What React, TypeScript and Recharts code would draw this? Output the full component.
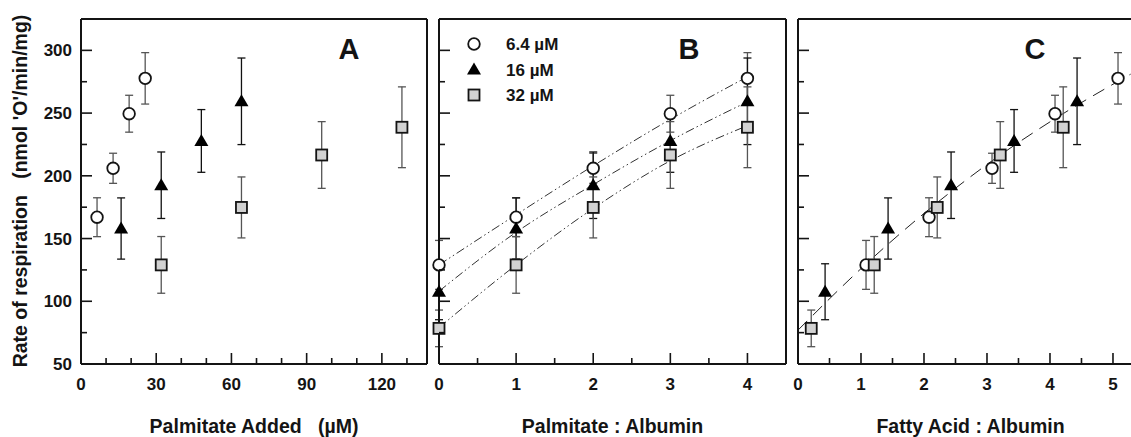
import React from "react";
import { ComposedChart, ErrorBar, Legend, Line, ReferenceLine, Scatter, XAxis, YAxis } from "recharts";

// Respiration rate (nmol 'O'/min/mg) at palmitate:albumin ratio 0..4
const RATIOS = [0, 1, 2, 3, 4];
const RESP_64 = [129, 167, 206, 249.5, 277.7];
const ERR_64 = [19.5, 15.5, 12, 14.7, 20.5];
const RESP_16 = [107.6, 158, 192.5, 227.8, 259.4];
const ERR_16 = [22.3, 24.4, 26.5, 25, 34.5];
const RESP_32 = [78.4, 129, 174.8, 216.6, 238.7];
const ERR_32 = [14.6, 22.6, 24.3, 26.6, 32.2];

// Panel B fitted curves
const FIT_64 = [129, 169, 208, 245, 279];
const FIT_16 = [108, 155, 193, 228, 259];
const FIT_32 = [79, 129, 174, 212, 240];

// Panel A: palmitate added (µM), ratios 1..4
const PALM_64 = [6.4, 12.8, 19.2, 25.6];
const PALM_16 = [16, 32, 48, 64];
const PALM_32 = [32, 64, 96, 128];

// Panel C: total fatty acid : albumin
const FA_64 = [1.08, 2.08, 3.08, 4.08, 5.08];
const FA_16 = [0.43, 1.43, 2.43, 3.43, 4.43];
const FA_32 = [0.21, 1.21, 2.21, 3.21, 4.21];
const FIT_C_X = [0, 1, 2, 3, 4, 5, 5.28];
const FIT_C_Y = [77, 126, 170, 209, 243, 273, 281];

// Ticks
const Y_TICKS = [50, 75, 100, 125, 150, 175, 200, 225, 250, 275, 300];
const Y_LABELS = [50, 100, 150, 200, 250, 300];
const X_TICKS_A = [0, 10, 20, 30, 40, 50, 60, 70, 80, 90, 100, 110, 120, 130];
const X_LABELS_A = [0, 30, 60, 90, 120];
const X_TICKS_B = [0, 0.5, 1, 1.5, 2, 2.5, 3, 3.5, 4];
const X_LABELS_B = [0, 1, 2, 3, 4];
const X_TICKS_C = [0, 0.5, 1, 1.5, 2, 2.5, 3, 3.5, 4, 4.5, 5];
const X_LABELS_C = [0, 1, 2, 3, 4, 5];

const FONT = '"Liberation Sans", Arial, Helvetica, sans-serif';
const INK = "#141414";
const CHART_H = 437;
const PLOT_BOTTOM = 364;
const Y_DOMAIN: [number, number] = [50, 325];
const MARGIN = { top: 19, right: 0, bottom: 3, left: 0 };

const toPoints = (xs: number[], ys: number[], errs: number[]) =>
  xs.map((x, i) => ({ x, y: ys[i], err: errs[i] }));

// Markers
const CircleMark = ({ cx, cy }: any) => (
  <circle cx={cx} cy={cy} r={5.8} fill="#fff" stroke={INK} strokeWidth={1.8} />
);
const TriangleMark = ({ cx, cy }: any) => (
  <polygon points={`${cx},${cy - 7} ${cx - 7},${cy + 5} ${cx + 7},${cy + 5}`} fill="#000" />
);
const SquareMark = ({ cx, cy }: any) => (
  <rect x={cx - 5.5} y={cy - 5.5} width={11} height={11} fill="#d2d2d2" stroke={INK} strokeWidth={1.8} />
);

const SERIES = [
  { name: "6.4 \u00b5M", Mark: CircleMark, bar: "#555" },
  { name: "16 \u00b5M", Mark: TriangleMark, bar: "#111" },
  { name: "32 \u00b5M", Mark: SquareMark, bar: "#555" },
];

// Inward tick marks, labels only on major ticks
const makeXTick = (labels: number[]) => (props: any) => {
  const { x, payload } = props;
  const major = labels.includes(payload.value);
  return (
    <g>
      <line x1={x} x2={x} y1={PLOT_BOTTOM} y2={PLOT_BOTTOM - (major ? 11 : 6)} stroke={INK} strokeWidth={1.6} />
      {major && (
        <text x={x} y={PLOT_BOTTOM + 26} textAnchor="middle" fontSize={17} fontWeight="bold" fill={INK} fontFamily={FONT}>
          {payload.value}
        </text>
      )}
    </g>
  );
};

const makeYTick = (plotLeft: number, showLabels: boolean) => (props: any) => {
  const { y, payload } = props;
  const major = Y_LABELS.includes(payload.value);
  return (
    <g>
      <line x1={plotLeft} x2={plotLeft + (major ? 11 : 6)} y1={y} y2={y} stroke={INK} strokeWidth={1.6} />
      {showLabels && major && (
        <text x={plotLeft - 9} y={y + 6} textAnchor="end" fontSize={17} fontWeight="bold" fill={INK} fontFamily={FONT}>
          {payload.value}
        </text>
      )}
    </g>
  );
};

const LegendB = () => (
  <svg width={200} height={110}>
    {SERIES.map((s, i) => {
      const cy = 44 + i * 25.5;
      return (
        <g key={s.name}>
          <s.Mark cx={45} cy={cy} />
          <text x={77} y={cy + 6} fontSize={17} fontWeight="bold" fill={INK} fontFamily={FONT}>
            {s.name}
          </text>
        </g>
      );
    })}
  </svg>
);

const BORDER = { stroke: INK, strokeWidth: 2 };

export default function App() {
  const seriesA = [
    toPoints(PALM_64, RESP_64.slice(1), ERR_64.slice(1)),
    toPoints(PALM_16, RESP_16.slice(1), ERR_16.slice(1)),
    toPoints(PALM_32, RESP_32.slice(1), ERR_32.slice(1)),
  ];
  const seriesB = [
    toPoints(RATIOS, RESP_64, ERR_64),
    toPoints(RATIOS, RESP_16, ERR_16),
    toPoints(RATIOS, RESP_32, ERR_32),
  ];
  const fitsB = [FIT_64, FIT_16, FIT_32].map((fit) => RATIOS.map((x, i) => ({ x, y: fit[i] })));
  const seriesC = [toPoints(FA_64, RESP_64, ERR_64), toPoints(FA_16, RESP_16, ERR_16), toPoints(FA_32, RESP_32, ERR_32)];
  const fitC = FIT_C_X.map((x, i) => ({ x, y: FIT_C_Y[i] }));

  const renderScatters = (sets: { x: number; y: number; err: number }[][]) =>
    sets.map((data, i) => (
      <Scatter key={SERIES[i].name} name={SERIES[i].name} data={data} shape={SERIES[i].Mark} isAnimationActive={false}>
        <ErrorBar dataKey="err" direction="y" width={4} stroke={SERIES[i].bar} strokeWidth={1.3} />
      </Scatter>
    ));

  return (
    <div style={{ position: "absolute", left: 0, top: 0, width: 1131, height: 437, background: "#fff", fontFamily: FONT }}>
      {/* Panel A */}
      <div style={{ position: "absolute", left: 0, top: 0 }}>
        <ComposedChart width={430} height={CHART_H} margin={{ ...MARGIN, right: 3 }}>
          <XAxis dataKey="x" type="number" domain={[0, 138]} ticks={X_TICKS_A} interval={0}
            height={70} tickLine={false} axisLine={BORDER} tick={makeXTick(X_LABELS_A)} />
          <YAxis dataKey="y" type="number" domain={Y_DOMAIN} ticks={Y_TICKS} interval={0}
            width={81} tickLine={false} axisLine={BORDER} tick={makeYTick(81, true)} />
          <ReferenceLine y={325} {...BORDER} />
          <ReferenceLine x={138} {...BORDER} />
          {renderScatters(seriesA)}
        </ComposedChart>
      </div>

      {/* Panel B */}
      <div style={{ position: "absolute", left: 429, top: 0 }}>
        <ComposedChart width={359} height={CHART_H} margin={{ ...MARGIN, right: 2 }}>
          <XAxis dataKey="x" type="number" domain={[0, 4.5]} ticks={X_TICKS_B} interval={0}
            height={70} tickLine={false} axisLine={BORDER} tick={makeXTick(X_LABELS_B)} />
          <YAxis dataKey="y" type="number" domain={Y_DOMAIN} ticks={Y_TICKS} interval={0}
            width={10} tickLine={false} axisLine={BORDER} tick={makeYTick(10, false)} />
          <ReferenceLine y={325} {...BORDER} />
          <ReferenceLine x={4.5} {...BORDER} />
          {fitsB.map((data, i) => (
            <Line key={`fit-${i}`} data={data} dataKey="y" type="monotone" dot={false} legendType="none"
              stroke="#333" strokeWidth={1} strokeDasharray="9 3 1.5 3 1.5 3" isAnimationActive={false} />
          ))}
          {renderScatters(seriesB)}
          <Legend content={LegendB} layout="vertical" align="center" verticalAlign="middle"
            wrapperStyle={{ left: 0, top: 0, width: 200, height: 110 }} />
        </ComposedChart>
      </div>

      {/* Panel C */}
      <div style={{ position: "absolute", left: 788, top: 0 }}>
        <ComposedChart width={343} height={CHART_H} margin={MARGIN}>
          <XAxis dataKey="x" type="number" domain={[0, 5.286]} ticks={X_TICKS_C} interval={0}
            height={70} tickLine={false} axisLine={BORDER} tick={makeXTick(X_LABELS_C)} />
          <YAxis dataKey="y" type="number" domain={Y_DOMAIN} ticks={Y_TICKS} interval={0}
            width={10} tickLine={false} axisLine={BORDER} tick={makeYTick(10, false)} />
          <ReferenceLine y={325} {...BORDER} />
          <Line data={fitC} dataKey="y" type="monotone" dot={false} legendType="none"
            stroke="#222" strokeWidth={1} strokeDasharray="13 8" isAnimationActive={false} />
          {renderScatters(seriesC)}
        </ComposedChart>
      </div>

      {/* Titles */}
      <svg width={1131} height={437} style={{ position: "absolute", left: 0, top: 0, pointerEvents: "none" }}
        fontFamily={FONT} fontWeight="bold" fill={INK}>
        <text x={26.5} y={191} fontSize={19.5} textAnchor="middle" transform="rotate(-90 26.5 191)">
          {"Rate of respiration\u00a0\u00a0\u00a0(nmol 'O'/min/mg)"}
        </text>
        <text x={254} y={433} fontSize={19.5} textAnchor="middle">{"Palmitate Added\u00a0\u00a0\u00a0(\u00b5M)"}</text>
        <text x={612.5} y={433} fontSize={19.5} textAnchor="middle">Palmitate : Albumin</text>
        <text x={970.5} y={433} fontSize={19.5} textAnchor="middle">Fatty Acid : Albumin</text>
        <text x={349} y={59} fontSize={29} textAnchor="middle">A</text>
        <text x={689} y={59} fontSize={29} textAnchor="middle">B</text>
        <text x={1035} y={59} fontSize={29} textAnchor="middle">C</text>
      </svg>
    </div>
  );
}
